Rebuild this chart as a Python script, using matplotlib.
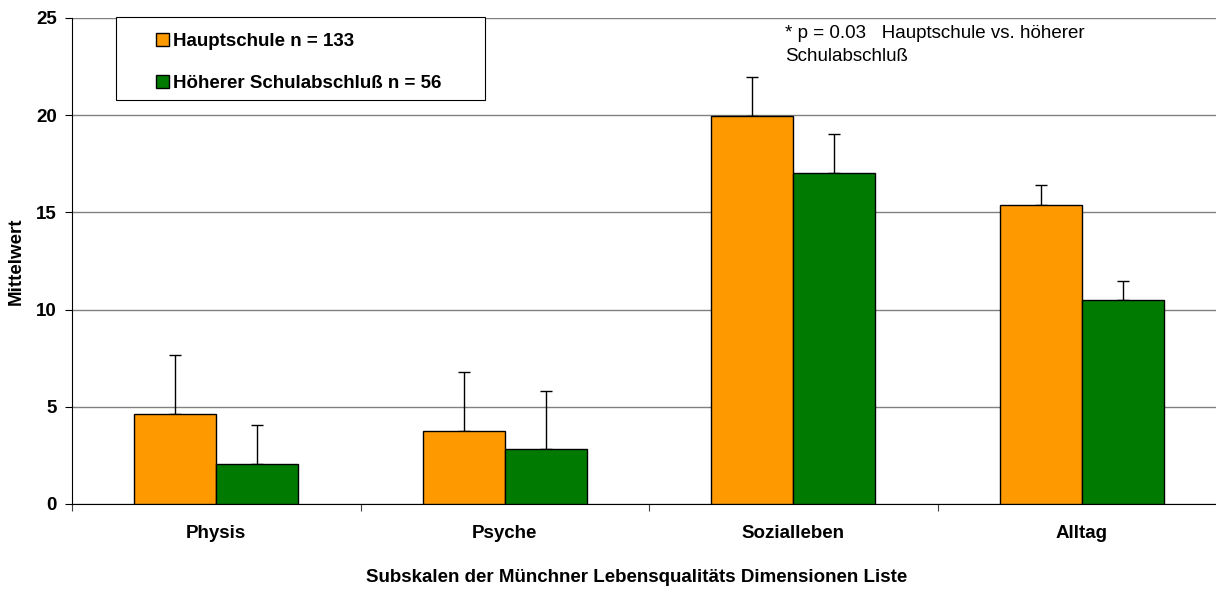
import matplotlib
matplotlib.use("Agg")
import matplotlib.pyplot as plt
from matplotlib.patches import Rectangle
import numpy as np

categories = ["Physis", "Psyche", "Sozialleben", "Alltag"]
haupt_mean = [4.63, 3.78, 19.96, 15.37]
haupt_err = [3.02, 3.02, 2.02, 1.02]
hoeher_mean = [2.07, 2.84, 17.02, 10.48]
hoeher_err = [1.97, 2.98, 2.03, 1.0]
series_labels = ["Hauptschule n = 133", "Höherer Schulabschluß n = 56"]
yticks = [0, 5, 10, 15, 20, 25]

plt.rcParams['font.family'] = ['Liberation Sans', 'DejaVu Sans']

W, H = 1216, 593
fig = plt.figure(figsize=(W / 100, H / 100), dpi=100)
left, right, top, bottom = 72, 1226, 18, 504
ax = fig.add_axes([left / W, 1 - bottom / H, (right - left) / W, (bottom - top) / H])

x = np.arange(len(categories))
bw = 0.284
ax.bar(x - bw / 2, haupt_mean, bw, color="#FF9900", edgecolor="black", linewidth=1.0,
       label=series_labels[0], zorder=3)
ax.bar(x + bw / 2, hoeher_mean, bw, color="#007A00", edgecolor="black", linewidth=1.0,
       label=series_labels[1], zorder=3)
ax.errorbar(x - bw / 2, haupt_mean, yerr=[np.zeros(4), haupt_err], fmt="none",
            ecolor="black", elinewidth=1.0, capsize=4, capthick=1.0, zorder=2)
ax.errorbar(x + bw / 2, hoeher_mean, yerr=[np.zeros(4), hoeher_err], fmt="none",
            ecolor="black", elinewidth=1.0, capsize=4, capthick=1.0, zorder=2)

fs = 13.5
ax.set_xlim(-0.5, len(categories) - 0.5)
ax.set_ylim(0, 25)
ax.set_yticks(yticks)
ax.set_yticklabels([str(t) for t in yticks], fontsize=fs, fontweight="bold")
ax.yaxis.grid(True, color="#808080", linewidth=1.0, zorder=0)
ax.set_axisbelow(True)

ax.set_xticks(np.arange(len(categories) + 1) - 0.5)
ax.set_xticklabels([])
ax.set_xticks(x, minor=True)
ax.set_xticklabels(categories, minor=True, fontsize=fs, fontweight="bold")
ax.tick_params(axis="x", which="minor", length=0, pad=15)
ax.tick_params(axis="x", which="major", length=5, direction="out", color="#404040")
ax.tick_params(axis="y", length=5, direction="out", pad=6)

for s in ["top", "right"]:
    ax.spines[s].set_visible(False)
ax.spines["left"].set_color("black")
ax.spines["bottom"].set_color("black")

ax.set_ylabel("Mittelwert", fontsize=fs, fontweight="bold", labelpad=8)
fig.text(637 / W, 1 - 578 / H,
         "Subskalen der Münchner Lebensqualitäts Dimensionen Liste",
         fontsize=fs, fontweight="bold", ha="center", va="center")

# legend frame drawn to reference extent
frame = Rectangle((116 / W, 1 - 100 / H), (485 - 116) / W, (100 - 17) / H,
                  transform=fig.transFigure, facecolor="white",
                  edgecolor="black", linewidth=0.8, zorder=5, clip_on=False)
ax.add_artist(frame)
leg = ax.legend(loc="upper left", bbox_to_anchor=(150 / W, 1 - 27 / H),
                bbox_transform=fig.transFigure,
                frameon=False,
                prop={"weight": "bold", "size": fs}, handlelength=0.7, handleheight=0.7,
                handletextpad=0.25, labelspacing=1.35, borderpad=0.3, borderaxespad=0)
leg.set_zorder(6)

fig.text(785 / W, 1 - 45 / H, "* p = 0.03   Hauptschule vs. höherer\nSchulabschluß",
         fontsize=fs, ha="left", va="center", linespacing=1.4)

fig.savefig("out.png", dpi=100)
